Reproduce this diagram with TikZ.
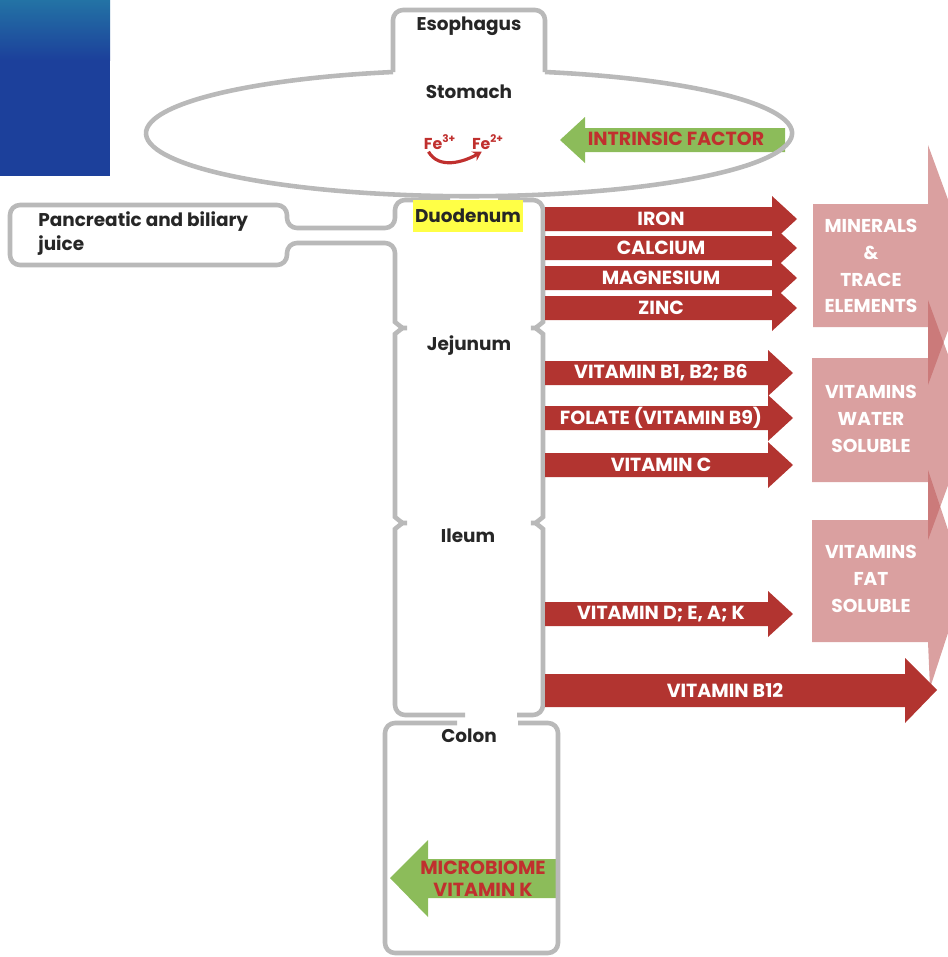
\documentclass[tikz,border=0pt]{standalone}
\usepackage{fontspec}
\setmainfont{Poppins}
\usetikzlibrary{positioning,arrows.meta}

\definecolor{wallgray}{RGB}{185,185,185}
\definecolor{txtdark}{RGB}{38,38,38}
\definecolor{redbar}{RGB}{178,52,48}
\definecolor{redtxt}{RGB}{192,48,46}
\definecolor{greenbar}{RGB}{140,188,90}
\definecolor{pinkbar}{RGB}{193,97,97}
\definecolor{hilite}{RGB}{255,255,70}
\definecolor{bluetop}{RGB}{35,115,165}
\definecolor{bluebot}{RGB}{28,64,155}

\begin{document}
\begin{tikzpicture}[x=0.02cm,y=-0.02cm]
        \tikzstyle{wall}=[draw=wallgray, line width=2.6pt, rounded corners=0.2cm];
        \tikzstyle{organ}=[text=txtdark, inner sep=0pt, font=\fontsize{10.5}{13.6}\selectfont\bfseries];
        \tikzstyle{barlabel}=[text=white, inner sep=0pt, font=\fontsize{10.8}{12}\selectfont\bfseries];
        \tikzstyle{pinklabel}=[text=white, inner sep=0pt, align=center, font=\fontsize{10.6}{15.3}\selectfont\bfseries];
        \tikzstyle{greenlabel}=[text=redtxt, inner sep=0pt, align=center, font=\fontsize{10.8}{12.5}\selectfont\bfseries];
        \tikzstyle{fetext}=[text=redtxt, inner sep=0pt, font=\fontsize{9}{10}\selectfont\bfseries];
        \tikzstyle{feline}=[draw=redtxt, line width=1.8pt, -{Stealth[length=5pt,width=6pt]}];
        \useasboundingbox (0,0) rectangle (947,957);
        % corner block
        \shade[top color=bluetop, bottom color=bluebot] (0,0) rectangle (110,60);
        \fill[bluebot] (0,60) rectangle (110,176);
        % green arrows
        \fill[greenbar] (785,128) -- (585,128) -- (585,117) -- (560,140) -- (585,163) -- (585,152) -- (785,152) -- cycle;
        \fill[greenbar] (557,859) -- (428,859) -- (428,840) -- (390,878) -- (428,917) -- (428,898) -- (557,898) -- cycle;
        % esophagus and stomach
        \draw[wall] (393,72) -- (393,10) -- (545,10) -- (545,72);
        \draw[wall] (545,72) arc[start angle=-76.4, end angle=256.4, x radius=323, y radius=63];
        % small intestine, juice box
        \draw[wall] (450,200) -- (395,200) -- (395,228) -- (287,228) -- (287,205) -- (10,205) -- (10,265) -- (287,265) -- (287,243) -- (395,243) -- (395,312)
            .. controls (395,322) and (402,328) .. (413,328) .. controls (402,328) and (395,334) .. (395,344) -- (395,507)
            .. controls (395,517) and (402,523) .. (413,523) .. controls (402,523) and (395,529) .. (395,539) -- (395,715) -- (465,715);
        \draw[wall] (498,200) -- (543,200) -- (543,312)
            .. controls (543,322) and (536,328) .. (525,328) .. controls (536,328) and (543,334) .. (543,344) -- (543,507)
            .. controls (543,517) and (536,523) .. (525,523) .. controls (536,523) and (543,529) .. (543,539) -- (543,715) -- (517,715);
        % colon
        \draw[wall] (457,723) -- (385,723) -- (385,953) -- (558,953) -- (558,723) -- (518,723);
        % pink groups
        \fill[pinkbar, fill opacity=0.6] (813,204) -- (928,204) -- (928,145) -- (972,265) -- (928,385) -- (928,327) -- (813,327) -- cycle;
        \fill[pinkbar, fill opacity=0.6] (812,358) -- (928,358) -- (928,300) -- (972,420) -- (928,540) -- (928,482) -- (812,482) -- cycle;
        \fill[pinkbar, fill opacity=0.6] (812,520) -- (928,520) -- (928,470) -- (965,581) -- (930,688) -- (928,642) -- (812,642) -- cycle;
        % red arrows
        \foreach \y/\b/\name/\txt in {219/772/iron/IRON, 248/772/calcium/CALCIUM, 278/772/magnesium/MAGNESIUM, 308/772/zinc/ZINC,
                373/768/vitb/{VITAMIN B1, B2; B6}, 418/768/folate/{FOLATE (VITAMIN B9)}, 465/768/vitc/{VITAMIN C}, 614/768/vitd/{VITAMIN D; E, A; K}} {
            \fill[redbar] (545,\y-12) -- (\b,\y-12) -- (\b,\y-23) -- (\b+25,\y) -- (\b,\y+23) -- (\b,\y+12) -- (545,\y+12) -- cycle;
            \node[barlabel] (\name) at (661,\y) {\txt};
        }
        \fill[redbar] (545,674) -- (905,674) -- (905,658) -- (937,690) -- (905,723) -- (905,707) -- (545,707) -- cycle;
        \node[barlabel] (vitbtwelve) at (725,690) {VITAMIN B12};
        % labels
        \node[organ] (esoph) at (469,26) {Esophagus};
        \node[organ] (stomach) at (469,92) {Stomach};
        \node[organ, fill=hilite, minimum width=2.2cm, minimum height=0.64cm] (duod) at (468,216) {Duodenum};
        \node[organ] (jejun) at (469,346) {Jejunum};
        \node[organ] (ileum) at (468,536) {Ileum};
        \node[organ] (colon) at (469,736) {Colon};
        \node[organ, align=left, anchor=west] (panc) at (38,234) {Pancreatic and biliary\\juice};
        \node[pinklabel] (minerals) at (871,266) {MINERALS\\\&\\TRACE\\ELEMENTS};
        \node[pinklabel] (watersol) at (871,419) {VITAMINS\\WATER\\SOLUBLE};
        \node[pinklabel] (fatsol) at (871,579) {VITAMINS\\FAT\\SOLUBLE};
        \node[greenlabel] (intrinsic) at (676,139) {INTRINSIC FACTOR};
        \node[greenlabel] (microb) at (483,879) {MICROBIOME\\VITAMIN K};
        \node[fetext] (fe3) at (440,142) {Fe\textsuperscript{3+}};
        \node[fetext] (fe2) at (488,142) {Fe\textsuperscript{2+}};
        \draw[feline] ([xshift=0.1cm,yshift=-0.04cm]fe3.south west) to[out=-60,in=-150] ([xshift=0.2cm,yshift=-0.04cm]fe2.south west);
\end{tikzpicture}
\end{document}
